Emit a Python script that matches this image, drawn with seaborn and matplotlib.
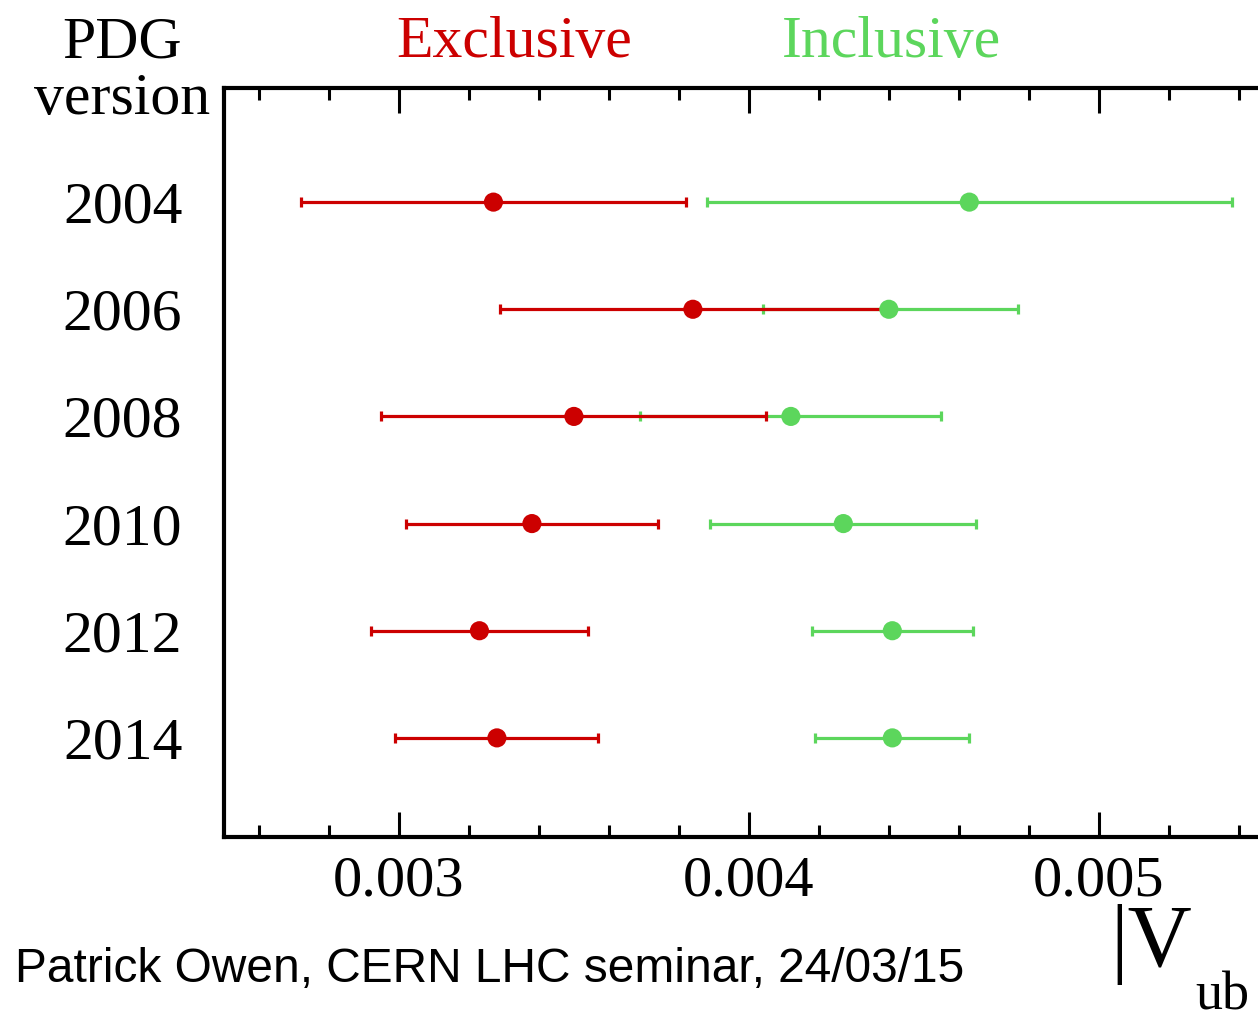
import numpy as np
import pandas as pd
import matplotlib
matplotlib.use("Agg")
import matplotlib.pyplot as plt
import seaborn as sns
from matplotlib.ticker import MultipleLocator, FixedLocator, FixedFormatter

# PDG |Vub| averages by edition
years = [2004, 2006, 2008, 2010, 2012, 2014]
excl_val = [0.00327, 0.00384, 0.00350, 0.00338, 0.00323, 0.00328]
excl_err = [0.00055, 0.00055, 0.00055, 0.00036, 0.00031, 0.00029]
incl_val = [0.00463, 0.00440, 0.00412, 0.00427, 0.00441, 0.00441]
incl_lo = [0.00075, 0.00036, 0.00043, 0.00038, 0.00023, 0.00022]
incl_hi = [0.00075, 0.00037, 0.00043, 0.00038, 0.00023, 0.00022]

x_ticks = [0.003, 0.004, 0.005]
x_tick_labels = ["0.003", "0.004", "0.005"]

RED = "#cc0000"
GREEN = "#5cd65c"

sns.set_theme(style="white")
plt.rcParams["font.family"] = ["Liberation Serif", "DejaVu Serif"]
plt.rcParams["text.color"] = "black"
plt.rcParams["xtick.color"] = "black"
plt.rcParams["ytick.color"] = "black"
plt.rcParams["axes.labelcolor"] = "black"

df = pd.DataFrame({
    "year": years * 2,
    "value": excl_val + incl_val,
    "kind": ["Exclusive"] * len(years) + ["Inclusive"] * len(years),
})

fig = plt.figure(figsize=(12.58, 10.23), dpi=100)
ax = fig.add_axes([224 / 1258, 1 - 837 / 1023, 1 - 224 / 1258, (837 - 88) / 1023])

# inclusive first so exclusive sits on top
ax.errorbar(incl_val, years, xerr=[incl_lo, incl_hi], fmt="none", ecolor=GREEN,
            elinewidth=2.3, capsize=3.5, capthick=2.3, zorder=2)
ax.errorbar(excl_val, years, xerr=excl_err, fmt="none", ecolor=RED,
            elinewidth=2.3, capsize=3.5, capthick=2.3, zorder=3)
sns.scatterplot(data=df[df.kind == "Inclusive"], x="value", y="year", color=GREEN,
                s=190, edgecolor="none", ax=ax, zorder=4, legend=False)
sns.scatterplot(data=df[df.kind == "Exclusive"], x="value", y="year", color=RED,
                s=190, edgecolor="none", ax=ax, zorder=5, legend=False)

ax.set_xlim(0.0025, 0.005455)
ax.set_ylim(2015.85, 2001.87)

ax.xaxis.set_major_locator(FixedLocator(x_ticks))
ax.xaxis.set_major_formatter(FixedFormatter(x_tick_labels))
ax.xaxis.set_minor_locator(MultipleLocator(0.0002))
ax.tick_params(axis="x", which="both", direction="in", top=True, bottom=True,
               color="black", labelcolor="black", width=2.2, labelsize=42, pad=13)
ax.tick_params(axis="x", which="major", length=18)
ax.tick_params(axis="x", which="minor", length=8.5)

ax.set_yticks(years)
ax.set_yticklabels([str(y) for y in years])
ax.tick_params(axis="y", which="both", length=0, labelsize=43, labelcolor="black", pad=30)

ax.set_xlabel("")
ax.set_ylabel("")
for side in ["left", "top", "bottom"]:
    ax.spines[side].set_visible(True)
    ax.spines[side].set_color("black")
    ax.spines[side].set_linewidth(3)
ax.spines["right"].set_visible(False)

fig.text(122 / 1258, 1 - 43 / 1023, "PDG", ha="center", va="center", fontsize=43)
fig.text(122 / 1258, 1 - 100 / 1023, "version", ha="center", va="center", fontsize=43)
fig.text(514 / 1258, 1 - 43 / 1023, "Exclusive", ha="center", va="center", fontsize=43, color=RED)
fig.text(891 / 1258, 1 - 43 / 1023, "Inclusive", ha="center", va="center", fontsize=43, color=GREEN)

fig.text(1110 / 1258, 1 - 966 / 1023, "|V", ha="left", va="baseline", fontsize=64)
fig.text(1195 / 1258, 1 - 1010 / 1023, "ub", ha="left", va="baseline", fontsize=39)

fig.text(15 / 1258, 1 - 970 / 1023, "Patrick Owen, CERN LHC seminar, 24/03/15",
         ha="left", va="center", fontsize=34.5, family=["Liberation Sans", "DejaVu Sans"])

fig.savefig("out.png", dpi=100, facecolor="white")
